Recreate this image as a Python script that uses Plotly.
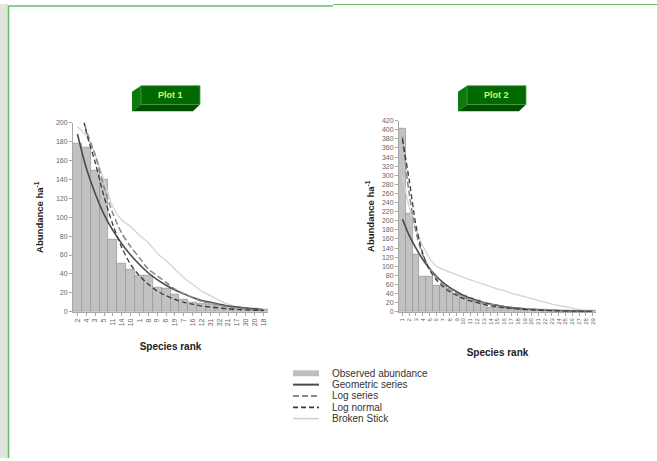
import plotly.graph_objects as go

W, H = 657, 461
FONT = "Arial, Liberation Sans, sans-serif"

# ---------------- data ----------------
plot1_species = ["2", "4", "3", "5", "11", "14", "10", "1", "8", "9", "6", "19",
                 "7", "16", "12", "31", "32", "21", "17", "30", "20", "18"]
plot1_observed = [178, 174, 149, 140, 76, 51, 44, 38, 38, 25, 24, 18,
                  13, 10, 9, 8, 7, 5, 4, 3, 3, 2]
plot1_geometric = [188, 152, 125, 103, 86, 72, 60, 50, 41, 34, 28, 23,
                   19, 15, 12, 10, 8, 6, 5, 4, 3, 2]
plot1_logseries = [235, 192, 166, 132, 104, 83, 69, 57, 45, 38, 31, 24,
                   19, 15, 11, 9, 7, 5, 4, 3, 2, 1.5]
plot1_lognormal = [235, 190, 158, 122, 92, 68, 50, 38, 29, 22, 17, 13,
                   10, 8, 6, 5, 4, 3, 2.5, 2, 1.5, 1.2]
plot1_brokenstick = [196, 186, 166, 139, 111, 97, 90, 81, 73, 62, 54, 45,
                     36, 29, 22, 17, 12, 8, 5, 3, 2, 1]

plot2_species = [str(i) for i in range(1, 30)]
plot2_observed = [403, 215, 125, 78, 78, 58, 55, 45, 38, 35, 28, 25, 20, 10,
                  8, 7, 7, 6, 5, 5, 4, 4, 3, 3, 3, 2, 2, 2, 2]
plot2_geometric = [204, 168, 140, 115, 95, 78, 64, 53, 44, 36, 30, 25, 20, 17,
                   14, 11, 9, 8, 6.5, 5.4, 4.4, 3.6, 3, 2.5, 2, 1.7, 1.4, 1.2, 1]
plot2_logseries = [385, 260, 175, 125, 95, 75, 60, 48, 40, 33, 27, 23, 19, 16,
                   14, 12, 10, 8.5, 7, 6, 5, 4.2, 3.5, 3, 2.5, 2, 1.7, 1.4, 1.2]
plot2_lognormal = [380, 290, 190, 128, 92, 70, 55, 44, 36, 29, 24, 20, 16, 13,
                   11, 9, 7.5, 6, 5, 4, 3.3, 2.7, 2.2, 1.8, 1.5, 1.2, 1, 0.8, 0.6]
plot2_brokenstick = [300, 230, 180, 145, 118, 100, 93, 87, 81, 76, 70, 65, 60, 55,
                     50, 46, 41, 37, 33, 29, 25, 21, 17, 14, 11, 8, 5, 3, 1.5]

series_names = ["Observed abundance", "Geometric series", "Log series",
                "Log normal", "Broken Stick"]
panel_titles = ["Plot 1", "Plot 2"]
y_ranges = [(0, 200, 20), (0, 420, 20)]

# ---------------- styles ----------------
BAR_FILL = "#c2c2c2"
BAR_LINE = "#9a9a9a"
LINE_STYLES = {
    "Geometric series": dict(color="#4a4a4a", width=1.6, dash="solid"),
    "Log series": dict(color="#8a8a8a", width=1.6, dash="6px,3px"),
    "Log normal": dict(color="#3a3a3a", width=1.3, dash="5px,3px"),
    "Broken Stick": dict(color="#d4d4d4", width=1.3, dash="solid"),
}


def px(x):
    return x / W


def py(y):
    return (H - y) / H


fig = go.Figure()

panels = [
    (plot1_species, plot1_observed, plot1_geometric, plot1_logseries,
     plot1_lognormal, plot1_brokenstick, "x", "y"),
    (plot2_species, plot2_observed, plot2_geometric, plot2_logseries,
     plot2_lognormal, plot2_brokenstick, "x2", "y2"),
]

for species, obs, geo, lser, lnorm, bstick, xa, ya in panels:
    fig.add_trace(go.Bar(x=species, y=obs, name=series_names[0],
                         marker=dict(color=BAR_FILL, line=dict(color=BAR_LINE, width=0.8)),
                         xaxis=xa, yaxis=ya, showlegend=False))
    # draw order: broken stick under the others
    for name, vals in [("Broken Stick", bstick), ("Geometric series", geo),
                       ("Log series", lser), ("Log normal", lnorm)]:
        fig.add_trace(go.Scatter(x=species, y=vals, name=name, mode="lines",
                                 line=dict(shape="spline", smoothing=0.8,
                                           **LINE_STYLES[name]),
                                 xaxis=xa, yaxis=ya, showlegend=False))

axis_common = dict(showgrid=False, zeroline=False, showline=True,
                   linecolor="#a8a8a8", linewidth=1, ticks="outside",
                   tickcolor="#a8a8a8", ticklen=3)

fig.update_layout(
    xaxis=dict(domain=[px(73), px(268)], anchor="y", type="category",
               tickmode="linear", tick0=0, dtick=1,
               tickangle=-90, tickfont=dict(family=FONT, size=7, color="#666"),
               title=dict(text="<b>Species rank</b>", standoff=17,
                          font=dict(family=FONT, size=10, color="#222")),
               **axis_common),
    yaxis=dict(domain=[py(312.5), py(120.5)], anchor="x",
               range=[y_ranges[0][0], y_ranges[0][1]], dtick=y_ranges[0][2],
               tickfont=dict(family=FONT, size=7, color="#666"),
               title=dict(text="<b>Abundance ha<sup>-1</sup></b>", standoff=10,
                          font=dict(family=FONT, size=9.5, color="#222")),
               **axis_common),
    xaxis2=dict(domain=[px(399), px(596)], anchor="y2", type="category",
                tickmode="linear", tick0=0, dtick=1,
                tickangle=-90, tickfont=dict(family=FONT, size=6, color="#666"),
                title=dict(text="<b>Species rank</b>", standoff=25,
                           font=dict(family=FONT, size=10, color="#222")),
                **axis_common),
    yaxis2=dict(domain=[py(312.5), py(118.5)], anchor="x2",
                range=[y_ranges[1][0], y_ranges[1][1]], dtick=y_ranges[1][2],
                tickfont=dict(family=FONT, size=7, color="#666"),
                title=dict(text="<b>Abundance ha<sup>-1</sup></b>", standoff=5,
                           font=dict(family=FONT, size=9.5, color="#222")),
                **axis_common),
)

shapes = []
annotations = []

# page decoration: left textured strip and green frame lines
shapes.append(dict(type="rect", xref="paper", yref="paper", x0=0, x1=px(8),
                   y0=0, y1=1, fillcolor="#e2e4e0", line=dict(width=0), layer="below"))
shapes.append(dict(type="line", xref="paper", yref="paper", x0=px(8.5), x1=px(8.5),
                   y0=0, y1=py(2), line=dict(color="#66bb66", width=1.5)))
shapes.append(dict(type="line", xref="paper", yref="paper", x0=px(8), x1=px(333),
                   y0=py(2), y1=py(2), line=dict(color="#66bb66", width=1.5)))
shapes.append(dict(type="line", xref="paper", yref="paper", x0=px(333), x1=1,
                   y0=py(0.5), y1=py(0.5), line=dict(color="#66bb66", width=1)))

# 3D green title boxes
for title, left in zip(panel_titles, [132, 458]):
    fx0, fx1 = left + 9, left + 68
    top, fbot, bot = 83, 102, 109
    side = f"M {px(left)},{py(top + 6)} L {px(fx0)},{py(top)} L {px(fx0)},{py(fbot)} L {px(left)},{py(bot)} Z"
    bottom = f"M {px(left)},{py(bot)} L {px(fx0)},{py(fbot)} L {px(fx1)},{py(fbot)} L {px(fx1 - 7)},{py(bot)} Z"
    shapes.append(dict(type="path", xref="paper", yref="paper", path=side,
                       fillcolor="#0a7a0a", line=dict(width=0)))
    shapes.append(dict(type="path", xref="paper", yref="paper", path=bottom,
                       fillcolor="#004f00", line=dict(width=0)))
    shapes.append(dict(type="rect", xref="paper", yref="paper", x0=px(fx0), x1=px(fx1),
                       y0=py(fbot), y1=py(top), fillcolor="#006a00",
                       line=dict(color="#4c9a4c", width=0.8)))
    annotations.append(dict(xref="paper", yref="paper", x=px((fx0 + fx1) / 2),
                            y=py((top + fbot) / 2), text=f"<b>{title}</b>",
                            showarrow=False, xanchor="center", yanchor="middle",
                            font=dict(family=FONT, size=9, color="#ccff66")))

# legend (manual, compact spacing as in the reference)
leg_rows = [375, 386.5, 398, 409.5, 421]
for name, yrow in zip(series_names, leg_rows):
    if name == "Observed abundance":
        shapes.append(dict(type="rect", xref="paper", yref="paper", x0=px(293), x1=px(319),
                           y0=py(yrow + 3), y1=py(yrow - 3), fillcolor="#bdbdbd",
                           line=dict(width=0)))
    else:
        st = LINE_STYLES[name]
        shapes.append(dict(type="line", xref="paper", yref="paper", x0=px(293), x1=px(319),
                           y0=py(yrow), y1=py(yrow),
                           line=dict(color=st["color"], width=st["width"] + 0.4,
                                     dash=st["dash"])))
    annotations.append(dict(xref="paper", yref="paper", x=px(330), y=py(yrow),
                            text=name, showarrow=False, xanchor="left", yanchor="middle",
                            font=dict(family=FONT, size=10, color="#333")))

fig.update_layout(
    width=W, height=H, autosize=False,
    margin=dict(l=0, r=0, t=0, b=0),
    paper_bgcolor="white", plot_bgcolor="white",
    bargap=0, showlegend=False,
    shapes=shapes, annotations=annotations,
)

fig.write_html("out.html",
               config={"displayModeBar": False},
               post_script="document.body.style.margin='0';document.body.style.padding='0';")
